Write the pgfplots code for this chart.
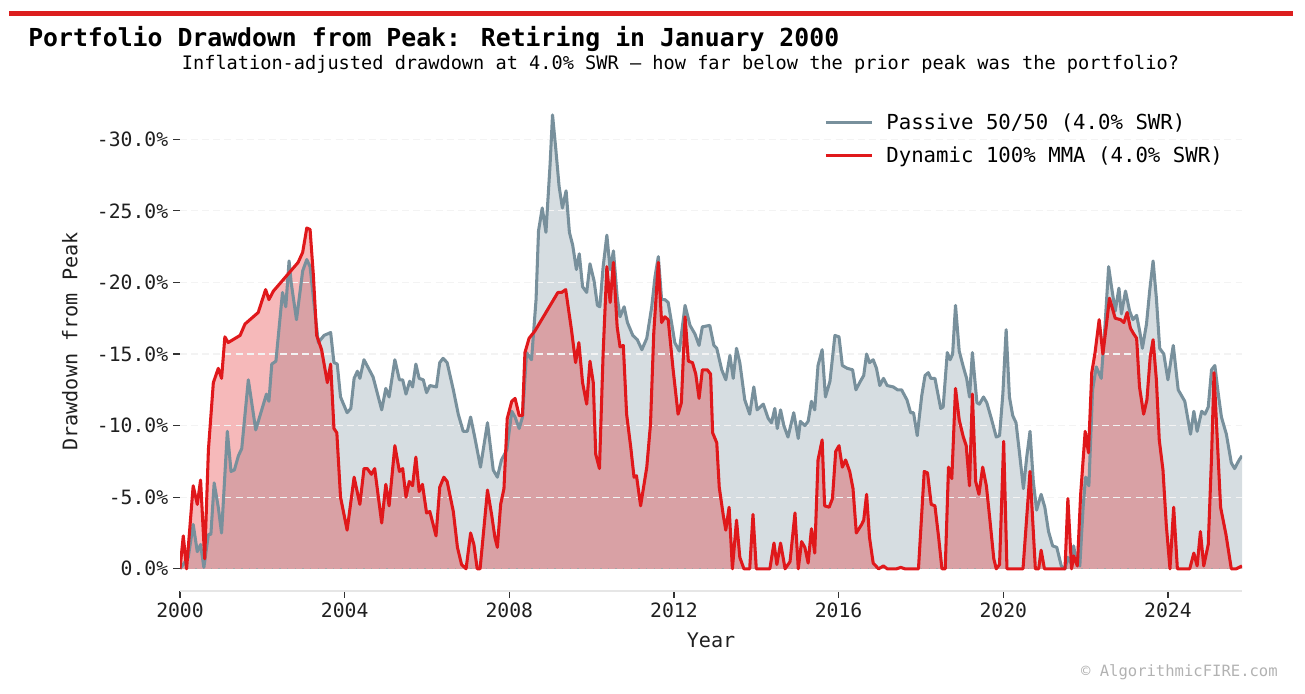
\documentclass[border=0pt]{standalone}
\usepackage{fontspec}
\setmainfont{DejaVu Sans Mono}
\usepackage{pgfplots}
\usepackage{pgfplotstable}
\pgfplotsset{compat=1.18}
\definecolor{myred}{HTML}{E0181B}
\definecolor{barred}{HTML}{DC1E1E}
\definecolor{mygray}{HTML}{78909C}
\definecolor{gridc}{HTML}{F3F3F3}
\definecolor{axc}{HTML}{E6E6E6}
\definecolor{tickc}{HTML}{333333}

\pgfplotstableread{
x y
2000.00 0
2000.20 0.8
2000.32 3.1
2000.42 1.2
2000.50 1.7
2000.58 0.1
2000.69 2.4
2000.75 2.4
2000.83 6.0
2000.93 4.3
2001.01 2.5
2001.15 9.6
2001.24 6.8
2001.32 6.9
2001.42 7.9
2001.50 8.4
2001.66 13.2
2001.84 9.7
2002.10 12.2
2002.16 11.7
2002.23 14.3
2002.33 14.5
2002.49 19.3
2002.57 18.3
2002.65 21.5
2002.70 20.0
2002.83 17.4
2002.98 20.8
2003.08 21.6
2003.16 21.1
2003.26 18.4
2003.36 15.8
2003.50 16.3
2003.66 16.5
2003.74 14.4
2003.82 14.3
2003.90 12.0
2004.06 10.9
2004.15 11.2
2004.23 13.3
2004.31 13.8
2004.37 13.3
2004.47 14.6
2004.69 13.4
2004.90 11.1
2005.00 12.6
2005.08 12.0
2005.22 14.6
2005.33 13.2
2005.41 13.2
2005.49 12.2
2005.58 13.1
2005.65 12.7
2005.73 14.3
2005.81 13.3
2005.91 13.2
2005.99 12.3
2006.07 12.8
2006.23 12.7
2006.31 14.4
2006.39 14.7
2006.49 14.4
2006.64 12.5
2006.76 10.8
2006.88 9.6
2006.98 9.6
2007.06 10.6
2007.16 9.2
2007.30 7.1
2007.47 10.2
2007.61 6.9
2007.71 6.4
2007.81 7.6
2007.94 8.3
2008.06 11.0
2008.14 10.6
2008.24 9.8
2008.32 10.6
2008.42 15.1
2008.54 14.6
2008.65 18.8
2008.71 23.6
2008.80 25.2
2008.89 23.5
2008.99 28.2
2009.05 31.7
2009.13 29.3
2009.21 26.7
2009.29 25.2
2009.38 26.4
2009.46 23.5
2009.54 22.6
2009.63 20.9
2009.70 22.0
2009.78 19.7
2009.88 19.3
2009.96 21.3
2010.06 20.1
2010.14 18.4
2010.20 18.3
2010.28 21.1
2010.37 23.3
2010.45 20.9
2010.53 22.2
2010.62 19.0
2010.69 17.6
2010.79 18.3
2010.87 17.2
2011.00 16.3
2011.11 16.0
2011.22 15.3
2011.34 16.1
2011.46 18.3
2011.54 20.4
2011.62 21.8
2011.70 18.8
2011.78 18.8
2011.86 18.6
2011.97 16.7
2012.02 15.8
2012.13 15.2
2012.27 18.4
2012.39 17.0
2012.51 16.4
2012.61 15.6
2012.69 16.9
2012.87 17.0
2012.97 15.6
2013.04 15.4
2013.16 13.9
2013.26 13.2
2013.36 14.9
2013.44 13.3
2013.52 15.4
2013.60 14.4
2013.72 11.8
2013.84 10.8
2013.94 12.7
2014.02 11.1
2014.17 11.5
2014.29 10.5
2014.37 10.2
2014.45 11.2
2014.51 9.8
2014.59 11.1
2014.67 10.0
2014.77 9.2
2014.91 10.9
2015.02 9.1
2015.07 10.3
2015.18 10.0
2015.26 10.3
2015.34 11.7
2015.42 11.1
2015.50 14.2
2015.60 15.3
2015.68 12.0
2015.79 13.1
2015.91 16.3
2016.01 16.2
2016.09 14.2
2016.21 14.0
2016.34 13.9
2016.42 12.5
2016.53 13.1
2016.61 13.5
2016.68 15.0
2016.75 14.4
2016.84 14.6
2016.92 14.0
2017.00 12.8
2017.09 13.3
2017.18 12.8
2017.33 12.7
2017.43 12.5
2017.53 12.5
2017.66 11.8
2017.75 10.9
2017.82 10.9
2017.91 9.3
2018.02 12.1
2018.10 13.5
2018.18 13.7
2018.24 13.3
2018.34 13.3
2018.48 11.2
2018.54 11.3
2018.64 15.1
2018.71 14.6
2018.77 15.0
2018.84 18.4
2018.93 15.2
2019.03 14.1
2019.11 13.3
2019.18 12.0
2019.25 15.1
2019.36 11.6
2019.42 11.5
2019.52 12.0
2019.60 11.6
2019.70 10.6
2019.83 9.2
2019.91 9.3
2019.99 12.2
2020.07 16.7
2020.15 12.0
2020.23 10.7
2020.31 10.2
2020.39 8.2
2020.49 5.6
2020.57 7.8
2020.65 9.6
2020.73 6.1
2020.81 4.1
2020.92 5.2
2021.01 4.3
2021.10 2.6
2021.20 1.6
2021.30 1.5
2021.41 0.2
2021.50 0.0
2021.57 0.8
2021.66 0.3
2021.71 1.6
2021.78 0.4
2021.86 0.2
2021.94 4.3
2022.00 6.4
2022.08 5.8
2022.17 12.5
2022.26 14.1
2022.38 13.3
2022.47 16.9
2022.56 21.1
2022.64 19.5
2022.72 18.0
2022.81 19.6
2022.87 17.8
2022.97 19.4
2023.07 18.0
2023.15 17.4
2023.24 17.7
2023.32 16.5
2023.38 15.4
2023.48 17.1
2023.56 19.5
2023.64 21.5
2023.72 18.9
2023.80 15.4
2023.90 15.0
2024.00 13.2
2024.13 15.6
2024.25 12.5
2024.33 12.1
2024.41 11.7
2024.55 9.4
2024.63 11.0
2024.71 9.6
2024.82 11.0
2024.90 10.8
2024.98 11.3
2025.06 13.9
2025.14 14.2
2025.22 12.3
2025.30 10.6
2025.42 9.4
2025.54 7.4
2025.62 7.0
2025.73 7.6
2025.80 7.9
}\passive

\pgfplotstableread{
x y
2000.00 0
2000.08 2.3
2000.16 0
2000.32 5.8
2000.42 4.5
2000.50 6.2
2000.60 0.7
2000.69 8.3
2000.81 13.0
2000.93 14.0
2001.01 13.3
2001.09 16.2
2001.17 15.8
2001.46 16.3
2001.58 17.1
2001.90 17.9
2002.08 19.5
2002.16 18.8
2002.27 19.4
2002.87 21.4
2002.98 22.1
2003.08 23.8
2003.16 23.7
2003.24 20.5
2003.32 16.3
2003.44 15.3
2003.58 13.0
2003.66 14.3
2003.74 9.8
2003.81 9.5
2003.90 5.0
2004.06 2.7
2004.23 6.4
2004.37 4.5
2004.47 7.0
2004.55 7.0
2004.65 6.6
2004.73 7.0
2004.90 3.2
2005.00 5.9
2005.08 4.4
2005.22 8.6
2005.33 6.8
2005.41 7.0
2005.49 5.0
2005.57 6.1
2005.65 5.8
2005.73 7.8
2005.81 5.4
2005.89 5.9
2005.99 3.9
2006.07 4.0
2006.22 2.3
2006.31 5.7
2006.41 6.4
2006.49 6.1
2006.64 4.0
2006.74 1.5
2006.84 0.3
2006.95 0
2007.06 2.5
2007.14 1.7
2007.22 0
2007.29 0
2007.47 5.5
2007.57 3.8
2007.65 2.2
2007.71 1.5
2007.79 4.5
2007.87 5.6
2007.95 10.5
2008.06 11.7
2008.14 11.9
2008.24 10.7
2008.32 10.7
2008.38 15.1
2008.48 16.1
2008.62 16.6
2009.18 19.3
2009.27 19.3
2009.37 19.5
2009.51 16.7
2009.61 14.4
2009.69 15.8
2009.78 13.0
2009.88 11.5
2009.96 14.5
2010.04 13.0
2010.10 8.0
2010.19 7.0
2010.28 15.1
2010.37 21.1
2010.45 18.6
2010.53 21.4
2010.62 16.9
2010.69 15.5
2010.77 15.6
2010.85 10.8
2010.95 8.5
2011.03 6.4
2011.09 6.5
2011.19 4.4
2011.34 7.1
2011.43 10.1
2011.51 16.5
2011.62 21.4
2011.70 17.2
2011.78 17.6
2011.86 17.4
2011.98 13.9
2012.10 10.8
2012.18 11.6
2012.27 17.6
2012.35 14.5
2012.45 14.4
2012.53 13.6
2012.61 11.9
2012.69 13.9
2012.81 13.9
2012.89 13.6
2012.94 9.5
2013.04 8.8
2013.10 5.7
2013.20 3.7
2013.26 2.7
2013.34 4.3
2013.42 0
2013.52 3.4
2013.60 0.8
2013.70 0
2013.84 0
2013.92 3.8
2014.00 0
2014.33 0
2014.43 1.8
2014.50 0.3
2014.59 1.8
2014.70 0
2014.82 0.5
2014.94 3.9
2015.02 0
2015.10 1.9
2015.18 1.5
2015.26 0.4
2015.34 2.8
2015.42 1.1
2015.50 7.6
2015.60 9.0
2015.66 4.4
2015.77 4.3
2015.85 4.9
2015.93 8.2
2016.01 8.6
2016.09 7.1
2016.17 7.6
2016.27 6.8
2016.35 5.6
2016.43 2.5
2016.56 3.1
2016.61 3.4
2016.68 5.2
2016.75 2.2
2016.84 0.4
2016.97 0
2017.09 0.2
2017.18 0
2017.41 0
2017.51 0.1
2017.61 0
2017.94 0
2018.08 6.8
2018.16 6.7
2018.25 4.5
2018.34 4.4
2018.43 2.2
2018.51 0
2018.59 0
2018.67 7.1
2018.75 6.3
2018.84 12.6
2018.93 10.4
2019.03 9.2
2019.10 8.6
2019.18 5.8
2019.25 12.2
2019.33 6.1
2019.41 5.2
2019.50 7.1
2019.59 5.8
2019.68 3.3
2019.77 0.7
2019.83 0
2019.91 0.3
2020.01 8.9
2020.09 0
2020.48 0
2020.65 6.8
2020.78 0
2020.86 0
2020.92 1.3
2021.00 0
2021.50 0
2021.57 4.9
2021.66 0
2021.71 0.9
2021.80 0.2
2021.88 5.2
2021.99 9.6
2022.07 8.1
2022.15 13.7
2022.23 15.1
2022.33 17.4
2022.42 15.0
2022.50 16.9
2022.58 18.9
2022.72 17.5
2022.85 17.4
2022.93 17.2
2023.01 17.9
2023.09 16.8
2023.17 16.4
2023.24 16.1
2023.31 12.7
2023.41 10.8
2023.49 11.8
2023.57 14.8
2023.64 16.0
2023.72 13.2
2023.79 9.0
2023.88 6.9
2023.96 3.1
2024.05 0
2024.14 4.3
2024.23 0
2024.53 0
2024.63 1.1
2024.71 0.2
2024.79 2.6
2024.87 0.2
2024.98 1.7
2025.06 7.8
2025.12 13.7
2025.20 9.0
2025.28 4.3
2025.41 2.4
2025.54 0
2025.66 0
2025.80 0.2
}\dynamic

\begin{document}
\begin{tikzpicture}[x=0.72pt,y=0.72pt]
\path[use as bounding box] (0,0) rectangle (1305,693);
\fill[barred] (9,676.5) rectangle (1293,682);
\node[anchor=base west, font=\fontsize{17.85}{20}\selectfont\bfseries, inner sep=0pt] at (28,646) {Portfolio Drawdown from Peak: Retiring in January 2000};
\node[anchor=base, font=\fontsize{13.4}{15}\selectfont, inner sep=0pt] at (680.5,623) {Inflation-adjusted drawdown at 4.0\% SWR — how far below the prior peak was the portfolio?};
\node[anchor=base east, font=\fontsize{11.2}{13}\selectfont, text=black!30, inner sep=0pt] at (1278,17) {© AlgorithmicFIRE.com};
\begin{axis}[
  at={(129.6pt,73.44pt)}, anchor=south west,
  scale only axis, width=764.64pt, height=359.28pt,
  xmin=2000, xmax=2025.8, ymin=-1.55, ymax=33.3,
  axis x line*=bottom, axis y line*=left,
  x axis line style={draw=axc, line width=1.4pt},
  y axis line style={draw=none},
  xtick={2000,2004,2008,2012,2016,2020,2024},
  xticklabels={2000,2004,2008,2012,2016,2020,2024},
  ytick={0,5,10,15,20,25,30},
  yticklabels={0.0\%,-5.0\%,-10.0\%,-15.0\%,-20.0\%,-25.0\%,-30.0\%},
  tick align=outside, major tick length=5pt,
  tick style={tickc, line width=0.9pt},
  tick label style={font=\fontsize{14.2}{16}\selectfont, text=black!88},
  xlabel={Year}, ylabel={Drawdown from Peak},
  label style={font=\fontsize{14.5}{16}\selectfont, text=black!88},
  xlabel style={at={(axis description cs:0.5,-0.098)}, anchor=center},
  ylabel style={at={(axis description cs:-0.1036,0.5)}, anchor=center},
  legend style={at={(rel axis cs:0.6064,0.962)}, anchor=north west, draw=none, fill=none,
    font=\fontsize{14.9}{17}\selectfont, row sep=6.5pt, column sep=7.5pt, inner sep=0pt,
    nodes={inner sep=2pt}},
  legend cell align=left,
  legend image code/.code={\draw[#1] (0pt,0pt) -- (33pt,0pt);},
]
\addplot[draw=none, fill=mygray, fill opacity=0.3, forget plot] table[x=x,y=y]{\passive} \closedcycle;
\addplot[draw=none, fill=myred, fill opacity=0.3, forget plot] table[x=x,y=y]{\dynamic} \closedcycle;
\addplot[gridc, dash pattern=on 5pt off 3pt, line width=0.8pt, forget plot] coordinates {(2000,5) (2025.8,5)};
\addplot[gridc, dash pattern=on 5pt off 3pt, line width=0.8pt, forget plot] coordinates {(2000,10) (2025.8,10)};
\addplot[gridc, dash pattern=on 5pt off 3pt, line width=0.8pt, forget plot] coordinates {(2000,15) (2025.8,15)};
\addplot[gridc, dash pattern=on 5pt off 3pt, line width=0.8pt, forget plot] coordinates {(2000,20) (2025.8,20)};
\addplot[gridc, dash pattern=on 5pt off 3pt, line width=0.8pt, forget plot] coordinates {(2000,25) (2025.8,25)};
\addplot[gridc, dash pattern=on 5pt off 3pt, line width=0.8pt, forget plot] coordinates {(2000,30) (2025.8,30)};
\addplot[black!35, dash pattern=on 1pt off 4.5pt, line width=0.8pt, forget plot] coordinates {(2000,0) (2025.8,0)};
\addplot[mygray, line width=2.2pt, line join=round] table[x=x,y=y]{\passive};
\addlegendentry{Passive 50/50 (4.0\% SWR)}
\addplot[myred, line width=2.2pt, line join=round] table[x=x,y=y]{\dynamic};
\addlegendentry{Dynamic 100\% MMA (4.0\% SWR)}
\end{axis}
\end{tikzpicture}
\end{document}
